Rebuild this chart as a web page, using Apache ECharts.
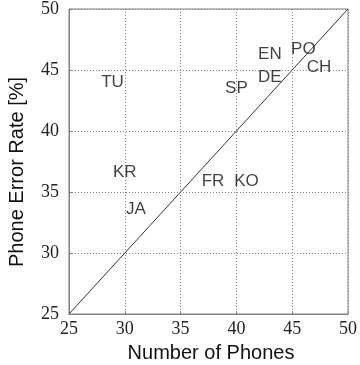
<!DOCTYPE html>
<html>
<head>
<meta charset="utf-8">
<script src="https://cdn.jsdelivr.net/npm/echarts@6/dist/echarts.min.js"></script>
<style>html,body{margin:0;padding:0;background:#fff}#c{width:360px;height:365px}</style>
</head>
<body>
<div id="c"></div>
<script>
var languages = ['TU', 'KR', 'JA', 'SP', 'EN', 'DE', 'PO', 'CH', 'FR', 'KO'];
var numPhones = [28.9, 30.0, 31.0, 40.0, 43.0, 43.0, 46.0, 47.4, 37.9, 40.9];
var errorRate = [44.0, 36.6, 33.6, 43.5, 46.3, 44.4, 46.7, 45.2, 35.9, 35.9];
var diagonal = [25, 50];
var tickLabels = ['25', '30', '35', '40', '45', '50'];

var chart = echarts.init(document.getElementById('c'), null, {renderer: 'canvas'});
var pts = languages.map(function (n, i) { return {name: n, value: [numPhones[i], errorRate[i]]}; });
var axisCommon = {
  type: 'value', min: 25, max: 50, interval: 5,
  axisLine: {show: true, onZero: false, lineStyle: {color: '#808080', width: 1}},
  axisTick: {show: true, inside: true, length: 3, lineStyle: {color: '#808080'}},
  splitLine: {show: true, lineStyle: {color: '#888', type: [1, 2], width: 1}},
  axisLabel: {fontFamily: 'Liberation Serif', fontSize: 18, color: '#222'}
};
chart.setOption({
  animation: false,
  backgroundColor: '#fff',
  grid: {left: 69, right: 7, top: 8, bottom: 51, show: true, borderColor: '#808080', borderWidth: 1},
  xAxis: Object.assign({}, axisCommon, {
    axisLabel: Object.assign({}, axisCommon.axisLabel, {margin: 6, formatter: function (v) { return tickLabels[(v - 25) / 5]; }})
  }),
  yAxis: Object.assign({}, axisCommon, {
    axisLabel: Object.assign({}, axisCommon.axisLabel, {margin: 10, formatter: function (v) { return tickLabels[(v - 25) / 5]; }})
  }),
  graphic: [
    {type: 'text', x: 211, y: 353, style: {text: 'Number of Phones', font: '20px "Liberation Sans"', fill: '#111', textAlign: 'center', textVerticalAlign: 'middle'}},
    {type: 'text', rotation: Math.PI / 2, x: 17, y: 172, style: {text: 'Phone Error Rate [%]', font: '20px "Liberation Sans"', fill: '#111', textAlign: 'center', textVerticalAlign: 'middle'}}
  ],
  series: [
    {
      type: 'line', data: [[diagonal[0], diagonal[0]], [diagonal[1], diagonal[1]]],
      showSymbol: false, symbol: 'none',
      lineStyle: {color: '#333', width: 1}, z: 3
    },
    {
      type: 'scatter', data: pts, symbolSize: 1,
      itemStyle: {color: 'rgba(0,0,0,0)'},
      label: {show: true, position: 'inside', formatter: '{b}', fontFamily: 'Liberation Sans', fontSize: 17, color: '#111'},
      z: 4
    }
  ]
});
</script>
</body>
</html>
